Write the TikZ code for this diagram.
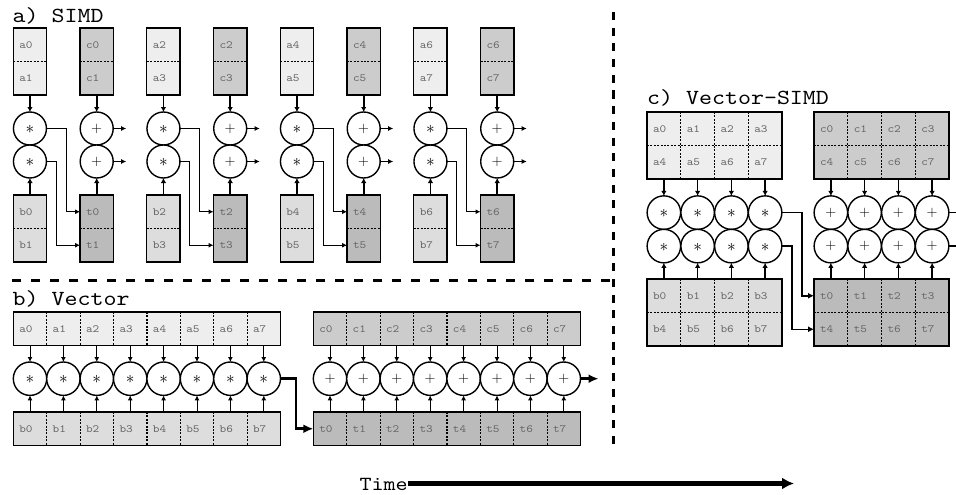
\documentclass[tikz,border=0pt]{standalone}
\usepackage{fontspec}
\setmonofont[FakeStretch=1.15]{lmmono10-regular.otf}
\usetikzlibrary{arrows.meta}
\definecolor{ca}{HTML}{EEEEEE}
\definecolor{cb}{HTML}{DDDDDD}
\definecolor{cc}{HTML}{CCCCCC}
\definecolor{ct}{HTML}{BBBBBB}
\definecolor{tx}{HTML}{666666}
\newcommand{\opstar}{\fontsize{19}{19}\selectfont$\ast$}
\newcommand{\opplus}{\fontsize{15.5}{16}\selectfont$+$}
\begin{document}
\begin{tikzpicture}[x=1pt,y=-1pt,
  boxo/.style={draw, line width=1.3pt, inner sep=0pt, outer sep=0pt, anchor=north west},
  cell/.style={inner xsep=6pt, inner ysep=0pt, outer sep=0pt, text width=#1,
     minimum height=33.5pt, anchor=north west, align=left, text=tx,
     font=\fontsize{11}{12}\selectfont\ttfamily},
  div/.style={line width=1.2pt, dash pattern=on 2pt off 1.4pt},
  op/.style={circle, draw, line width=1.4pt, fill=white, minimum size=#1, inner sep=0pt, outer sep=0pt},
  opst/.style={op=#1, text height=10.5pt, text depth=0pt},
  oppl/.style={op=#1, text height=7.75pt, text depth=0pt},
  title/.style={anchor=base west, inner sep=0pt, font=\fontsize{21.5}{24}\selectfont\ttfamily},
  inarr/.style={line width=1.7pt, -{Latex[length=5pt,width=5.5pt]}},
  thinarr/.style={line width=1pt, -{Latex[length=5pt,width=5pt]}},
  conn/.style={line width=1pt, -{Latex[length=5pt,width=5pt]}},
  cconn/.style={line width=1.5pt, -{Latex[length=6pt,width=6pt]}},
  bigarr/.style={line width=2.6pt, -{Latex[length=10pt,width=9pt]}},
  sepline/.style={line width=3pt, dash pattern=on 9pt off 10pt},
  timearr/.style={line width=4.2pt, -{Latex[length=12pt,width=12pt]}}
]
\useasboundingbox (0,0) rectangle (956,495);

% ---------------- a) SIMD ----------------
\node[title] (ta) at (12.5,22.5) {a) SIMD};
\foreach \k in {0,1,2,3}{
  \pgfmathsetmacro{\xa}{13.3+133.5*\k}
  \pgfmathsetmacro{\xc}{\xa+66.75}
  \pgfmathtruncatemacro{\ia}{2*\k}
  \pgfmathtruncatemacro{\ib}{2*\k+1}
  % top boxes
  \node[boxo, fill=ca, minimum width=33.3pt, minimum height=67pt] (sa\k) at (\xa,28) {};
  \node[cell=21.3pt] (sa\k-0) at (\xa,28) {a\ia};
  \node[cell=21.3pt] (sa\k-1) at (\xa,61.5) {a\ib};
  \draw[div] (sa\k.west) -- (sa\k.east);
  \node[boxo, fill=cc, minimum width=33.3pt, minimum height=67pt] (sc\k) at (\xc,28) {};
  \node[cell=21.3pt] (sc\k-0) at (\xc,28) {c\ia};
  \node[cell=21.3pt] (sc\k-1) at (\xc,61.5) {c\ib};
  \draw[div] (sc\k.west) -- (sc\k.east);
  % bottom boxes
  \node[boxo, fill=cb, minimum width=33.3pt, minimum height=67pt] (sb\k) at (\xa,195) {};
  \node[cell=21.3pt] (sb\k-0) at (\xa,195) {b\ia};
  \node[cell=21.3pt] (sb\k-1) at (\xa,228.5) {b\ib};
  \draw[div] (sb\k.west) -- (sb\k.east);
  \node[boxo, fill=ct, minimum width=33.3pt, minimum height=67pt] (st\k) at (\xc,195) {};
  \node[cell=21.3pt] (st\k-0) at (\xc,195) {t\ia};
  \node[cell=21.3pt] (st\k-1) at (\xc,228.5) {t\ib};
  \draw[div] (st\k.west) -- (st\k.east);
  % operators
  \node[opst=33pt] (sm\k-1) at (\xa+16.65,128.5) {\opstar};
  \node[opst=33pt] (sm\k-2) at (\xa+16.65,161.5) {\opstar};
  \node[oppl=33pt] (sp\k-1) at (\xc+16.65,128.5) {\opplus};
  \node[oppl=33pt] (sp\k-2) at (\xc+16.65,161.5) {\opplus};
  % arrows
  \draw[inarr] (sa\k.south) -- (sm\k-1.north);
  \draw[inarr] (sb\k.north) -- (sm\k-2.south);
  \draw[inarr] (sc\k.south) -- (sp\k-1.north);
  \draw[inarr] (st\k.north) -- (sp\k-2.south);
  \draw[conn] (sm\k-1.east) -- ++(20,0) |- (st\k-0.west);
  \draw[conn] (sm\k-2.east) -- ++(10,0) |- (st\k-1.west);
  \draw[conn] (sp\k-1.east) -- ++(13,0);
  \draw[conn] (sp\k-2.east) -- ++(13,0);
}

% ---------------- separators ----------------
\coordinate (h1) at (12,280);
\coordinate (h2) at (613,280);
\coordinate (v1) at (613,12);
\coordinate (v2) at (613,450);
\draw[sepline] (h1) -- (h2);
\draw[sepline, dash pattern=on 8pt off 7.7pt] (v1) -- (v2);

% ---------------- b) Vector ----------------
\node[title] (tb) at (12.5,305) {b) Vector};
\node[boxo, fill=ca, minimum width=267.2pt, minimum height=33.5pt] (va) at (13.3,312) {};
\node[boxo, fill=cb, minimum width=267.2pt, minimum height=33.5pt] (vb) at (13.3,412) {};
\node[boxo, fill=cc, minimum width=267.2pt, minimum height=33.5pt] (vc) at (313.3,312) {};
\node[boxo, fill=ct, minimum width=267.2pt, minimum height=33.5pt] (vt) at (313.3,412) {};
\foreach \i in {0,...,7}{
  \pgfmathsetmacro{\xx}{13.3+33.4*\i}
  \pgfmathsetmacro{\xy}{313.3+33.4*\i}
  \node[cell=21.4pt] (va-\i) at (\xx,312) {a\i};
  \node[cell=21.4pt] (vb-\i) at (\xx,412) {b\i};
  \node[cell=21.4pt] (vc-\i) at (\xy,312) {c\i};
  \node[cell=21.4pt] (vt-\i) at (\xy,412) {t\i};
  \ifnum\i>0
    \draw[div] (va-\i.north west) -- (va-\i.south west);
    \draw[div] (vb-\i.north west) -- (vb-\i.south west);
    \draw[div] (vc-\i.north west) -- (vc-\i.south west);
    \draw[div] (vt-\i.north west) -- (vt-\i.south west);
  \fi
  \node[opst=33.4pt] (vm-\i) at (\xx+16.7,378.7) {\opstar};
  \node[oppl=33.4pt] (vp-\i) at (\xy+16.7,378.7) {\opplus};
  \draw[thinarr] (va-\i.south) -- (vm-\i.north);
  \draw[thinarr] (vb-\i.north) -- (vm-\i.south);
  \draw[thinarr] (vc-\i.south) -- (vp-\i.north);
  \draw[thinarr] (vt-\i.north) -- (vp-\i.south);
}
\draw[bigarr] (vm-7.east) -- ++(15.5,0) |- (vt-0.west);
\draw[bigarr] (vp-7.east) -- ++(18,0);

% ---------------- c) Vector-SIMD ----------------
\node[title] (tc) at (647,104) {c) Vector-SIMD};
\node[boxo, fill=ca, minimum width=135pt, minimum height=67pt] (xa) at (647,112) {};
\node[boxo, fill=cb, minimum width=135pt, minimum height=67pt] (xb) at (647,279) {};
\node[boxo, fill=cc, minimum width=135pt, minimum height=67pt] (xc) at (814,112) {};
\node[boxo, fill=ct, minimum width=135pt, minimum height=67pt] (xt) at (814,279) {};
\draw[div] (xa.west) -- (xa.east);
\draw[div] (xb.west) -- (xb.east);
\draw[div] (xc.west) -- (xc.east);
\draw[div] (xt.west) -- (xt.east);
\foreach \i in {0,...,3}{
  \pgfmathsetmacro{\xx}{647+33.75*\i}
  \pgfmathsetmacro{\xy}{814+33.75*\i}
  \pgfmathtruncatemacro{\j}{\i+4}
  \node[cell=21.75pt] (xa-0-\i) at (\xx,112) {a\i};
  \node[cell=21.75pt] (xa-1-\i) at (\xx,145.5) {a\j};
  \node[cell=21.75pt] (xb-0-\i) at (\xx,279) {b\i};
  \node[cell=21.75pt] (xb-1-\i) at (\xx,312.5) {b\j};
  \node[cell=21.75pt] (xc-0-\i) at (\xy,112) {c\i};
  \node[cell=21.75pt] (xc-1-\i) at (\xy,145.5) {c\j};
  \node[cell=21.75pt] (xt-0-\i) at (\xy,279) {t\i};
  \node[cell=21.75pt] (xt-1-\i) at (\xy,312.5) {t\j};
  \ifnum\i>0
    \draw[div] (xa-0-\i.north west) -- (xa-1-\i.south west);
    \draw[div] (xb-0-\i.north west) -- (xb-1-\i.south west);
    \draw[div] (xc-0-\i.north west) -- (xc-1-\i.south west);
    \draw[div] (xt-0-\i.north west) -- (xt-1-\i.south west);
  \fi
  \node[opst=33.5pt] (xm-0-\i) at (\xx+16.875,212.6) {\opstar};
  \node[opst=33.5pt] (xm-1-\i) at (\xx+16.875,246.1) {\opstar};
  \node[oppl=33.5pt] (xp-0-\i) at (\xy+16.875,212.6) {\opplus};
  \node[oppl=33.5pt] (xp-1-\i) at (\xy+16.875,246.1) {\opplus};
  \draw[inarr] (xa-1-\i.south) -- (xm-0-\i.north);
  \draw[inarr] (xb-0-\i.north) -- (xm-1-\i.south);
  \draw[inarr] (xc-1-\i.south) -- (xp-0-\i.north);
  \draw[inarr] (xt-0-\i.north) -- (xp-1-\i.south);
}
\draw[cconn] (xm-0-3.east) -- ++(20,0) |- (xt-0-0.west);
\draw[cconn] (xm-1-3.east) -- ++(10,0) |- (xt-1-0.west);
\draw[cconn] (xp-0-3.east) -- ++(16,0);
\draw[cconn] (xp-1-3.east) -- ++(16,0);

% ---------------- Time ----------------
\node[anchor=base east, inner sep=0pt, font=\fontsize{20}{22}\selectfont\ttfamily] (time) at (408,490) {Time};
\coordinate (tend) at (794,483.5);
\draw[timearr] (time.east |- tend) -- (tend);
\end{tikzpicture}
\end{document}
